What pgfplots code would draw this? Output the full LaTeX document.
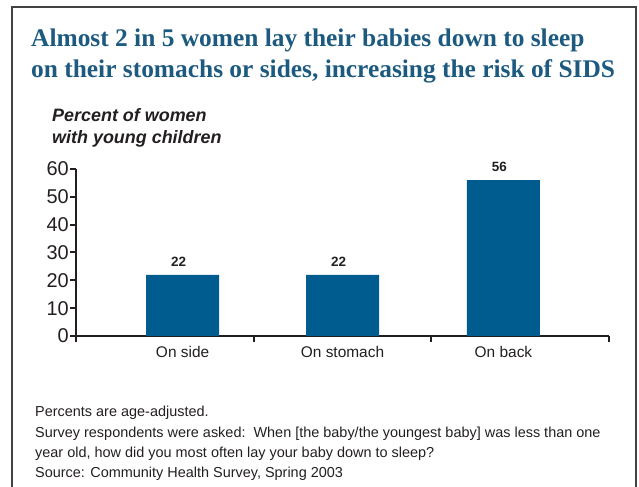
\documentclass[border=0pt]{standalone}
\usepackage{pgfplots}
\pgfplotsset{compat=1.18}
\usepackage{fontspec}
\setmainfont{Liberation Sans}
\newfontfamily\titlefont{Liberation Serif}
\definecolor{barblue}{HTML}{005C8E}
\definecolor{titleblue}{HTML}{1D5A80}
\definecolor{axisgray}{HTML}{231F20}
\begin{document}
\begin{tikzpicture}[x=1bp,y=1bp]
\path[use as bounding box] (0,0) rectangle (639,487);
\draw[line width=1.5bp, color=axisgray!85] (12,-2) -- (12,480) -- (636,480) -- (636,-2);
\node[anchor=base west, inner sep=0, text=titleblue, font=\titlefont\bfseries\fontsize{25.5}{25.5}\selectfont] at (31,440) {Almost 2 in 5 women lay their babies down to sleep};
\node[anchor=base west, inner sep=0, text=titleblue, font=\titlefont\bfseries\fontsize{25.5}{25.5}\selectfont] at (31,409) {on their stomachs or sides, increasing the risk of SIDS};
\node[anchor=base west, inner sep=0, text=axisgray, font=\bfseries\itshape\fontsize{18}{18}\selectfont] at (52,365) {Percent of women};
\node[anchor=base west, inner sep=0, text=axisgray, font=\bfseries\itshape\fontsize{18}{18}\selectfont] at (52,343) {with young children};
\begin{axis}[
  at={(76bp,151bp)}, anchor=origin,
  scale only axis, width=533bp, height=167bp,
  xmin=0, xmax=3, ymin=0, ymax=60,
  axis x line=bottom, axis y line=left,
  axis line style={-, line width=2.2bp, color=axisgray},
  every tick/.style={line width=2bp, color=axisgray},
  tick align=outside,
  major tick length=6bp,
  xtick={0,1,2,3}, xticklabels={},
  extra x ticks={0.6,1.5,2.406},
  extra x tick labels={On side,On stomach,On back},
  extra x tick style={major tick length=0pt, xticklabel style={yshift=-7bp}},
  ytick={0,10,...,60},
  /pgf/number format/assume math mode=true,
  yticklabel style={font=\fontsize{20}{20}\selectfont, text=axisgray, inner sep=1bp},
  xticklabel style={font=\fontsize{15.5}{15.5}\selectfont, text=axisgray},
  clip=false,
]
\addplot[ybar, bar width=73bp, fill=barblue, draw=none,
  nodes near coords,
  every node near coord/.style={font=\bfseries\fontsize{13.5}{13.5}\selectfont, text=axisgray, anchor=south, yshift=5bp, xshift=-4bp}]
  coordinates {(0.6,22) (1.5,22) (2.406,56)};
\end{axis}
\begin{scope}[font=\fontsize{14.5}{14.5}\selectfont, text=axisgray]
\node[anchor=base west, inner sep=0] at (35,70) {Percents are age-adjusted.};
\node[anchor=base west, inner sep=0] at (35,49) {Survey respondents were asked:\ \ When [the baby/the youngest baby] was less than one};
\node[anchor=base west, inner sep=0] at (35,29) {year old, how did you most often lay your baby down to sleep?};
\node[anchor=base west, inner sep=0] at (35,9) {Source: Community Health Survey, Spring 2003};
\end{scope}
\end{tikzpicture}
\end{document}
